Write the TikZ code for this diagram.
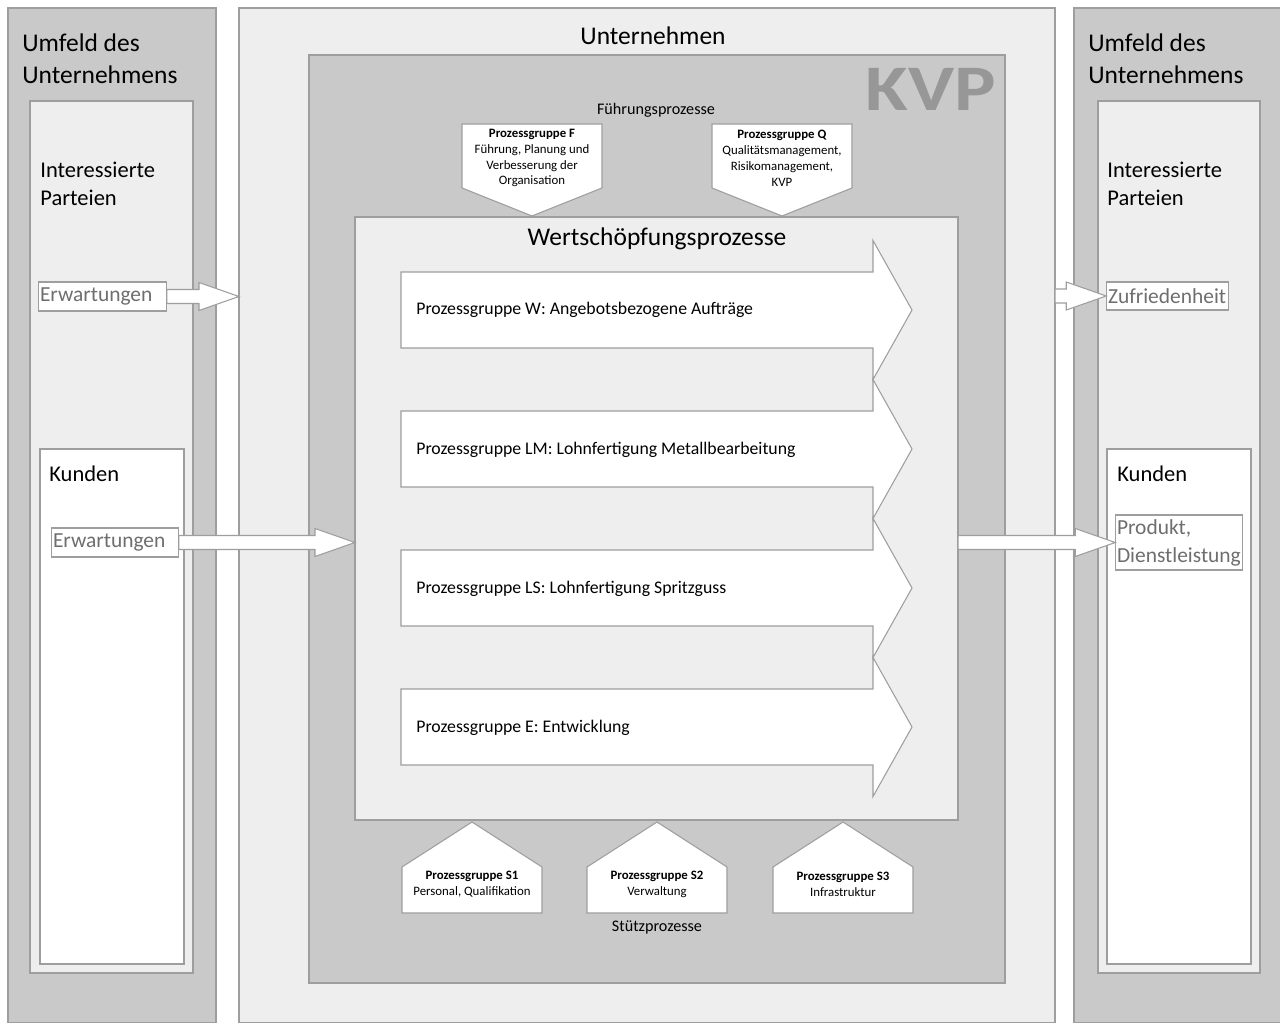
\documentclass[tikz,border=0pt]{standalone}
\usepackage{fontspec}
\setmainfont{Carlito}
\usetikzlibrary{calc,fit}
\definecolor{dunkel}{HTML}{C9C9C9}
\definecolor{hell}{HTML}{EEEEEE}
\definecolor{rand}{HTML}{9E9E9E}
\definecolor{schrift}{HTML}{6E6E6E}
\definecolor{kvpgrau}{HTML}{979797}
\newlength\px
\setlength\px{0.02cm}

\newcommand\blockpfeil[2]{%
  \draw[pfeil] ($(#1)+(0,-7)$) -- ($(#2)+(-40,-7)$) -- ($(#2)+(-40,-14)$) -- (#2)
    -- ($(#2)+(-40,14)$) -- ($(#2)+(-40,7)$) -- ($(#1)+(0,7)$) -- cycle;}

\begin{document}
\begin{tikzpicture}[x=0.02cm, y=-0.02cm,
    flaeche/.style={draw=rand, line width=0.6pt, inner sep=0pt, outer sep=0pt},
    pfeil/.style={draw=rand, fill=white, line width=0.6pt, line join=miter},
    etikett/.style={draw=rand, fill=white, text=schrift, line width=0.6pt,
      font=\fontsize{12.2}{15.9}\selectfont, inner sep=1pt, outer sep=0pt, align=left},
    titel/.style={font=\fontsize{14.5}{18.1}\selectfont, align=left, inner sep=0pt},
    gruppe/.style={font=\fontsize{12.8}{15.9}\selectfont, align=left, inner sep=0pt},
    klein/.style={font=\fontsize{7.3}{9.07}\selectfont, align=center, inner sep=0pt},
    prozess/.style={font=\fontsize{10.1}{12}\selectfont, anchor=base west, inner sep=0pt},
    mittel/.style={font=\fontsize{9.2}{11}\selectfont, anchor=base, inner sep=0pt}]
  \useasboundingbox (0,0) rectangle (1280,1023);

  \node[flaeche, fill=dunkel, fit={(8,8) (216,1023)}] (umfL) {};
  \node[flaeche, fill=dunkel, fit={(1074,8) (1282,1023)}] (umfR) {};
  \node[flaeche, fill=hell, fit={(239,8) (1055,1023)}] (unt) {};
  \node[flaeche, fill=dunkel, fit={(309,55) (1005,983)}] (kvp) {};
  \node[flaeche, fill=hell, fit={(355,217) (958,820)}] (wert) {};

  \node[flaeche, fill=hell, fit={(30,101) (193,973)}] (intL) {};
  \node[flaeche, fill=white, fit={(40,449) (184,964)}] (kundL) {};
  \node[flaeche, fill=hell, fit={(1098,101) (1260,973)}] (intR) {};
  \node[flaeche, fill=white, fit={(1107,449) (1251,964)}] (kundR) {};

  \node[titel, anchor=west] (umfLt) at (22,59) {Umfeld des\\Unternehmens};
  \node[titel, anchor=west] (umfRt) at (1088,59) {Umfeld des\\Unternehmens};
  \node[titel, anchor=base] (untt) at (653,45) {Unternehmen};
  \node[gruppe, anchor=west] (intLt) at (40,184) {Interessierte\\Parteien};
  \node[gruppe, anchor=west] (intRt) at (1107,184) {Interessierte\\Parteien};
  \node[gruppe, anchor=base west] (kundLt) at (49,481) {Kunden};
  \node[gruppe, anchor=base west] (kundRt) at (1117,481) {Kunden};

  \node[text=kvpgrau, inner sep=0pt, font=\bfseries\fontsize{37}{40}\selectfont] (kvpt) at (931,89) {\scalebox{1.2}[1]{KVP}};
  \node[mittel] (fuehr) at (656,115) {Führungsprozesse};
  \node[mittel] (stuetz) at (657,931) {Stützprozesse};
  \node[titel, anchor=base] (wertt) at (657,246) {Wertschöpfungsprozesse};

  \foreach \yc/\nm/\txt in {310/pgW/{Prozessgruppe W: Angebotsbezogene Aufträge},
      449/pgLM/{Prozessgruppe LM: Lohnfertigung Metallbearbeitung},
      588/pgLS/{Prozessgruppe LS: Lohnfertigung Spritzguss},
      727/pgE/{Prozessgruppe E: Entwicklung}}{
    \draw[pfeil] (401,\yc-38) -- (873,\yc-38) -- (873,\yc-69.5) -- (912,\yc)
      -- (873,\yc+69.5) -- (873,\yc+38) -- (401,\yc+38) -- cycle;
    \node[prozess] (\nm) at (416,\yc+5) {\txt};
  }

  \foreach \xc in {532,782}
    \draw[pfeil] (\xc-70,124) -- (\xc+70,124) -- (\xc+70,188) -- (\xc,216) -- (\xc-70,188) -- cycle;
  \foreach \xc in {472,657,843}
    \draw[pfeil] (\xc-70,913) -- (\xc+70,913) -- (\xc+70,867) -- (\xc,822) -- (\xc-70,867) -- cycle;

  \node[klein] (pgF) at (532,158) {\textbf{Prozessgruppe F}\\Führung, Planung und\\Verbesserung der\\Organisation};
  \node[klein] (pgQ) at (782,158) {\textbf{Prozessgruppe Q}\\Qualitätsmanagement,\\Risikomanagement,\\KVP};
  \node[klein] (pgS1) at (472,884) {\textbf{Prozessgruppe S1}\\Personal, Qualifikation};
  \node[klein] (pgS2) at (657,884) {\textbf{Prozessgruppe S2}\\Verwaltung};
  \node[klein] (pgS3) at (843,884) {\textbf{Prozessgruppe S3}\\Infrastruktur};

  \node[etikett, text width=125\px, minimum height=29\px] (erw1) at (102.5,296.5) {Erwartungen};
  \node[etikett, text width=124\px, minimum height=29\px] (erw2) at (115,542.5) {Erwartungen};
  \node[etikett, text width=119\px, minimum height=28\px] (zuf) at (1167.5,296) {Zufriedenheit};
  \node[etikett, text width=124\px, minimum height=55\px] (prod) at (1179,542.5) {Produkt,\\Dienstleistung};

  \coordinate (pA) at (erw1.east -| unt.west);
  \coordinate (pB) at (erw2.east -| wert.west);
  \coordinate (pC) at (zuf.west -| unt.east);
  \coordinate (pD) at (prod.west -| wert.east);
  \blockpfeil{erw1.east}{pA}
  \blockpfeil{erw2.east}{pB}
  \blockpfeil{pC}{zuf.west}
  \blockpfeil{pD}{prod.west}
\end{tikzpicture}
\end{document}
